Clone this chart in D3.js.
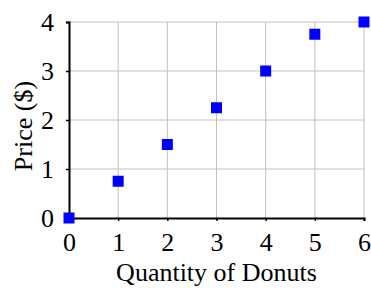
<!DOCTYPE html>
<html>
<head>
<meta charset="utf-8">
<script src="https://cdn.jsdelivr.net/npm/d3@7"></script>
<style>
  body { margin: 0; background: #fff; }
  svg text { font-family: "Liberation Serif", "Times New Roman", serif; fill: #000; }
</style>
</head>
<body>
<svg id="chart" width="371" height="288"></svg>
<script>
"use strict";

// data
var quantities = [0, 1, 2, 3, 4, 5, 6];
var prices = [0, 0.75, 1.5, 2.25, 3, 3.75, 4];
var xTicks = [0, 1, 2, 3, 4, 5, 6];
var yTicks = [0, 1, 2, 3, 4];

var margin = {left: 69, right: 7, top: 22, bottom: 70};
var width = 371, height = 288;

var svg = d3.select("#chart");

var x = d3.scaleLinear()
    .domain([0, 6])
    .range([margin.left, width - margin.right]);

var y = d3.scaleLinear()
    .domain([0, 4])
    .range([height - margin.bottom, margin.top]);

// gridlines
svg.append("g")
    .selectAll("line")
    .data(xTicks.slice(1))
    .join("line")
    .attr("x1", function(d){return x(d);})
    .attr("x2", function(d){return x(d);})
    .attr("y1", y(0))
    .attr("y2", y(4))
    .style("stroke", "#c0c0c0")
    .style("stroke-width", 1)
;

svg.append("g")
    .selectAll("line")
    .data(yTicks.slice(1))
    .join("line")
    .attr("x1", x(0))
    .attr("x2", x(6))
    .attr("y1", function(d){return y(d);})
    .attr("y2", function(d){return y(d);})
    .style("stroke", "#c0c0c0")
    .style("stroke-width", 1)
;

// axes
var xAxis = svg.append("g")
    .attr("transform", "translate(0," + y(0) + ")")
    .call(d3.axisBottom(x).tickValues(xTicks).tickFormat(d3.format("d")).tickSize(3).tickPadding(12))
;
var yAxis = svg.append("g")
    .attr("transform", "translate(" + x(0) + ",0)")
    .call(d3.axisLeft(y).tickValues(yTicks).tickFormat(d3.format("d")).tickSize(3).tickPadding(12))
;

[xAxis, yAxis].forEach(function(a) {
    a.select(".domain").attr("stroke", "#000").attr("stroke-width", 2);
    a.selectAll(".tick line").attr("stroke", "#000").attr("stroke-width", 1.5);
    a.selectAll(".tick text")
        .style("font-family", "'Liberation Serif', serif")
        .style("font-size", "26px")
        .attr("fill", "#000");
});

// points
svg.append("g")
    .selectAll("rect")
    .data(quantities)
    .join("rect")
    .attr("x", function(d){return x(d) - 5.5;})
    .attr("y", function(d, i){return y(prices[i]) - 5.5;})
    .attr("width", 11)
    .attr("height", 11)
    .style("fill", "#0000ff")
;

// labels
svg.append("text")
    .attr("x", (x(0) + x(6)) / 2)
    .attr("y", 281)
    .attr("text-anchor", "middle")
    .style("font-size", "26px")
    .text("Quantity of Donuts")
;

svg.append("text")
    .attr("transform", "translate(32,126) rotate(-90)")
    .attr("text-anchor", "middle")
    .style("font-size", "26px")
    .text("Price ($)")
;
</script>
</body>
</html>
